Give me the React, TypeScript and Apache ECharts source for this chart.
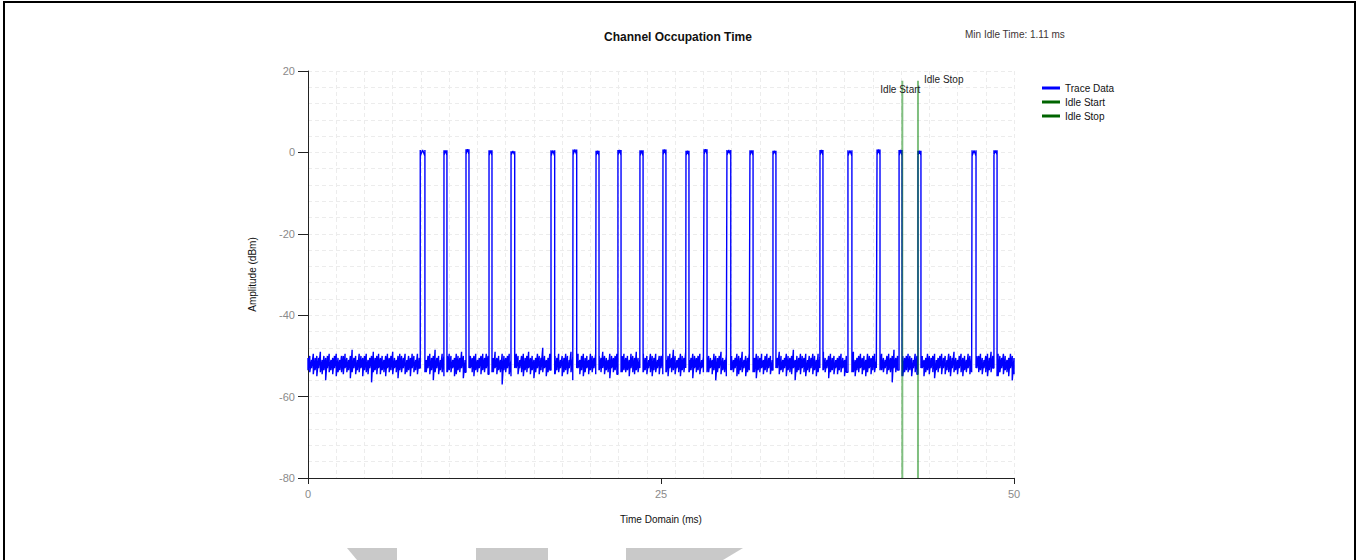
import React, { useEffect, useRef } from "react";
import * as echarts from "echarts";

const FONT = "'Liberation Sans', Arial, Helvetica, sans-serif";

const chartTitle = "Channel Occupation Time";
const minIdleText = "Min Idle Time: 1.11 ms";
const xTicks = [0, 25, 50];
const yTicks = [-80, -60, -40, -20, 0, 20];

// sample spacing of the noise trace (ms)
const sampleStep = 0.125;

// noise floor, upper edge of each sample bin (dBm), 0 to 50 ms
const noiseUpper = [
  -50.5,-50,-51,-49.5,-50.5,-50,-50.5,-49,-51,-50,-50.5,-50,-49.5,-51,-50.5,-50,-49.5,-50.5,-51,-50,
  -50,-49.5,-50.5,-51,-50,-48.5,-50.5,-50,-51,-49.5,-50,-50.5,-50,-49.5,-51,-50.5,-50,-49,-50.5,-50,
  -49.5,-50.5,-50,-51,-50,-49.5,-50.5,-50,-49,-50.5,-51,-50,-49.5,-50,-50.5,-49.5,-51,-50,-50.5,-49.5,
  -50,-51,-49.5,-50.5,-50,-49,-50.5,-51,-50,-49.5,-50.5,-50,-48.5,-50.5,-50,-51,-49.5,-50,-50.5,-50,
  -49.5,-50,-51,-50.5,-49.5,-50,-50.5,-49,-50,-51,-50.5,-49.5,-50,-50.5,-50,-49.5,-51,-50.5,-50,-49.5,
  -50.5,-49.5,-50,-51,-50,-50.5,-49,-50.5,-50,-51,-49.5,-50,-50.5,-50,-49.5,-51,-50,-50.5,-49.5,-50,
  -51,-50,-49.5,-50.5,-50,-49,-50.5,-50,-51,-50.5,-49.5,-50,-50.5,-48,-50,-51,-50.5,-49.5,-50,-50.5,
  -50,-50.5,-49.5,-51,-50,-50.5,-49.5,-50,-51,-49,-50.5,-50,-50.5,-49.5,-51,-50,-49.5,-50.5,-50,-51,
  -49.5,-50,-50.5,-49.5,-51,-50,-50.5,-49,-50,-50.5,-51,-49.5,-50,-50.5,-50,-49.5,-50.5,-51,-50,-49.5,
  -50.5,-50,-51,-49.5,-50,-50.5,-49,-50.5,-51,-50,-49.5,-50.5,-50,-51,-49.5,-50,-50.5,-49.5,-51,-50,
  -50,-49.5,-50.5,-51,-50,-49.5,-50.5,-48.5,-50,-51,-50.5,-49.5,-50,-50.5,-49,-50,-51,-50.5,-49.5,-50,
  -50.5,-50,-49.5,-51,-50.5,-50,-49.5,-50,-50.5,-51,-49.5,-50,-50.5,-50,-49,-50.5,-51,-50,-49.5,-50.5,
  -50,-51,-50.5,-49.5,-50,-50.5,-49,-51,-50,-50.5,-49.5,-50,-51,-50.5,-49.5,-50,-50.5,-49.5,-51,-50,
  -49.5,-50.5,-50,-51,-49.5,-50,-50.5,-49,-50,-51,-50.5,-49.5,-50,-50.5,-50,-48.5,-51,-50,-50.5,-49.5,
  -50,-50.5,-49.5,-51,-50,-50.5,-49.5,-50,-51,-49.5,-50.5,-50,-49,-50.5,-51,-50,-49.5,-50.5,-50,-51,
  -50.5,-50,-49.5,-50.5,-51,-50,-49.5,-50.5,-50,-49,-51,-50.5,-50,-49.5,-50.5,-50,-51,-49.5,-50,-50.5,
  -50,-49.5,-51,-50.5,-50,-49.5,-50.5,-51,-50,-49.5,-50.5,-50,-48.5,-50.5,-50,-51,-49.5,-50,-50.5,-50,
  -49.5,-50,-50.5,-51,-49.5,-50,-50.5,-49,-50,-51,-50.5,-49.5,-50,-50.5,-50,-49.5,-51,-50.5,-50,-49.5,
  -50.5,-50,-51,-49.5,-50,-50.5,-49,-50.5,-51,-50,-49.5,-50.5,-50,-51,-49.5,-50,-50.5,-49.5,-51,-50,
  -50,-49.5,-50.5,-51,-50,-49.5,-50.5,-49,-50,-51,-50.5,-49.5,-50,-50.5,-49.5,-50,-51,-50.5,-49.5,-50,
  -50.5,
];

// noise floor, lower edge of each sample bin (dBm), 0 to 50 ms
const noiseLower = [
  -53.5,-54,-53,-54.5,-53.5,-55,-53,-54,-54.5,-53.5,-56,-53,-54,-53.5,-54.5,-53,-55,-54,-53.5,-54,
  -54.5,-53,-54,-53.5,-55.5,-54,-53,-54.5,-53.5,-54,-53,-55,-53.5,-54,-54.5,-53,-56.5,-54,-53.5,-54.5,
  -53,-54.5,-53.5,-54,-55,-53,-54,-53.5,-54.5,-53,-54,-55.5,-53.5,-54,-53,-54.5,-54,-53.5,-55,-53,
  -54,-53.5,-54.5,-53,-54,-55,-53.5,-54,-53,-54.5,-53.5,-56,-54,-53,-54.5,-53.5,-54,-55,-53,-54,
  -53.5,-54,-53,-55,-54.5,-53.5,-54,-53,-55.5,-54,-53.5,-54.5,-53,-54,-55,-53.5,-54,-53,-54.5,-53.5,
  -54,-53,-54.5,-53.5,-55,-54,-53,-54.5,-53.5,-54,-57,-53.5,-54,-53,-54.5,-55,-53.5,-54,-53,-54.5,
  -53,-54,-55,-53.5,-54,-53,-54.5,-53.5,-55.5,-54,-53,-54.5,-53.5,-54,-53,-55,-54,-53.5,-54.5,-53,
  -54.5,-53.5,-54,-53,-55,-54,-53.5,-54.5,-53,-54,-56,-53.5,-54,-53,-54.5,-53.5,-55,-54,-53,-54.5,
  -53.5,-54,-53,-54.5,-55,-53.5,-54,-53,-54.5,-53.5,-54,-55.5,-53,-54,-53.5,-54.5,-53,-55,-54,-53.5,
  -54,-53.5,-55,-53,-54,-54.5,-53.5,-54,-53,-56.5,-54,-53.5,-54.5,-53,-54,-55,-53.5,-54,-53,-54.5,
  -53,-54.5,-53.5,-54,-55,-53,-54,-53.5,-54.5,-53,-54,-55,-53.5,-54,-53,-54.5,-54,-53.5,-55.5,-53,
  -54,-53.5,-54.5,-53,-54,-55,-53.5,-54,-53,-54.5,-53.5,-56,-54,-53,-54.5,-53.5,-54,-55,-53,-54,
  -53.5,-54,-53,-55,-54.5,-53.5,-54,-53,-55,-54,-53.5,-54.5,-53,-54,-55.5,-53.5,-54,-53,-54.5,-53.5,
  -54,-53,-54.5,-53.5,-55,-54,-53,-54.5,-53.5,-54,-53,-55,-53.5,-54,-54.5,-53,-56,-54,-53.5,-54.5,
  -53,-54,-55,-53.5,-54,-53,-54.5,-53.5,-55,-54,-53,-54.5,-53.5,-54,-53,-55.5,-54,-53.5,-54.5,-53,
  -54.5,-53.5,-54,-53,-55,-54,-53.5,-54.5,-53,-54,-55,-53.5,-54,-53,-54.5,-53.5,-55,-54,-53,-54.5,
  -53.5,-54,-53,-54.5,-55,-53.5,-54,-53,-54.5,-53.5,-54,-56.5,-53,-54,-53.5,-54.5,-53,-55,-54,-53.5,
  -54,-53.5,-55,-53,-54,-54.5,-53.5,-54,-53,-55,-54,-53.5,-54.5,-53,-54,-55.5,-53.5,-54,-53,-54.5,
  -53,-54.5,-53.5,-54,-55,-53,-54,-53.5,-54.5,-53,-54,-55,-53.5,-54,-53,-54.5,-54,-53.5,-55,-53,
  -54,-53.5,-54.5,-53,-54,-55,-53.5,-54,-53,-54.5,-53.5,-55,-54,-53,-54.5,-53.5,-54,-55,-53,-56,
  -54.5,
];

// burst start / stop times (ms)
const pulseStart = [7.95, 9.63, 11.19, 12.82, 14.38, 17.21, 18.77, 20.40, 21.95, 23.51, 25.14, 26.77, 28.05, 29.67, 31.30, 32.93, 36.26, 38.24, 40.30, 41.86, 43.20, 47.03, 48.58];
const pulseStop = [8.28, 9.84, 11.40, 13.03, 14.64, 17.47, 19.03, 20.61, 22.17, 23.73, 25.35, 26.98, 28.26, 29.94, 31.52, 33.14, 36.47, 38.52, 40.51, 42.07, 43.41, 47.31, 48.80];
// burst top levels (dBm)
const pulseHigh = [0.6, 0.5, 0.8, 0.5, 0.3, 0.5, 0.7, 0.4, 0.6, 0.5, 0.7, 0.4, 0.8, 0.6, 0.5, 0.4, 0.6, 0.5, 0.7, 0.6, 0.4, 0.5, 0.5];
const pulseLow = [-0.9, -0.7, -0.5, -0.8, -0.6, -0.9, -0.6, -0.8, -0.7, -0.9, -0.6, -0.8, -0.5, -0.7, -0.8, -0.6, -0.7, -0.9, -0.6, -0.8, -0.7, -0.9, -0.6];

// idle markers
const idleStart = 42.09;
const idleStop = 43.2;
const idleLineBottom = -80;
const idleLineTop = 17.6;

function buildTrace(): number[][] {
  const out: number[][] = [];
  let p = 0;
  const n = noiseUpper.length;
  for (let i = 0; i < n; i++) {
    const t = i * sampleStep;
    if (p < pulseStart.length && t >= pulseStart[p]) {
      const s = pulseStart[p];
      const e = pulseStop[p];
      const after = Math.min(n - 1, Math.ceil(e / sampleStep));
      out.push([s, noiseLower[Math.max(0, i - 1)]]);
      out.push([s, pulseHigh[p]]);
      out.push([s, pulseLow[p]]);
      out.push([(s + e) / 2, pulseHigh[p]]);
      out.push([e, pulseLow[p]]);
      out.push([e, pulseHigh[p]]);
      out.push([e, noiseLower[after]]);
      p++;
    }
    if (p > 0 && t >= pulseStart[p - 1] && t <= pulseStop[p - 1]) continue;
    out.push([t, noiseUpper[i]]);
    out.push([t, noiseLower[i]]);
  }
  return out;
}

export default function App() {
  const ref = useRef<HTMLDivElement>(null);
  useEffect(() => {
    document.body.style.margin = "0";
    if (!ref.current) return;
    const chart = echarts.init(ref.current, undefined, { renderer: "svg" });
    const trace = buildTrace();
    const gridLine = { show: true, lineStyle: { color: "#ececec", type: [4, 3] as any, width: 1 } };
    const greenLine = "rgba(0,128,0,0.5)";
    chart.setOption({
      animation: false,
      backgroundColor: "#ffffff",
      textStyle: { fontFamily: FONT },
      title: {
        text: chartTitle,
        left: 678,
        top: 31,
        padding: 0,
        textAlign: "center",
        textStyle: { fontFamily: FONT, fontSize: 12, fontWeight: "bold", color: "#111" },
      },
      legend: {
        orient: "vertical",
        left: 1042,
        top: 83,
        padding: 0,
        itemWidth: 18,
        itemHeight: 3,
        itemGap: 4,
        icon: "rect",
        textStyle: { fontFamily: FONT, fontSize: 10, color: "#111" },
        data: [
          { name: "Trace Data", itemStyle: { color: "#0000ff" } },
          { name: "Idle Start", itemStyle: { color: "#006400" } },
          { name: "Idle Stop", itemStyle: { color: "#006400" } },
        ],
      },
      grid: { left: 308, right: 348, top: 71, bottom: 82, containLabel: false },
      xAxis: [
        {
          type: "value",
          min: xTicks[0],
          max: xTicks[xTicks.length - 1],
          interval: xTicks[1] - xTicks[0],
          position: "bottom",
          name: "Time Domain (ms)",
          nameLocation: "middle",
          nameGap: 36,
          nameTextStyle: { fontFamily: FONT, fontSize: 10, color: "#111" },
          axisLine: { show: true, onZero: false, lineStyle: { color: "#222", width: 1 } },
          axisTick: { show: true, length: 6, lineStyle: { color: "#222" } },
          axisLabel: { color: "#8a8a8a", fontSize: 11, fontFamily: FONT, margin: 10 },
          splitLine: { show: false },
        },
        {
          type: "value",
          min: 0,
          max: 50,
          interval: 2,
          position: "top",
          axisLine: { show: false, onZero: false },
          axisTick: { show: false },
          axisLabel: { show: false },
          splitLine: gridLine,
        },
      ],
      yAxis: {
        type: "value",
        min: yTicks[0],
        max: yTicks[yTicks.length - 1],
        interval: 20,
        name: "Amplitude (dBm)",
        nameLocation: "middle",
        nameGap: 51,
        nameTextStyle: { fontFamily: FONT, fontSize: 10, color: "#111" },
        axisLine: { show: true, onZero: false, lineStyle: { color: "#222", width: 1 } },
        axisTick: { show: true, length: 10, lineStyle: { color: "#222" } },
        axisLabel: { color: "#8a8a8a", fontSize: 11, fontFamily: FONT, margin: 13 },
        splitLine: gridLine,
        minorTick: { show: false, splitNumber: 5 },
        minorSplitLine: gridLine,
      },
      graphic: [
        {
          type: "text",
          left: 965,
          top: 29,
          style: { text: minIdleText, font: `10px ${FONT}`, fill: "#3d3535" },
        },
        { type: "rect", shape: { x: 3, y: 1, width: 1353, height: 2 }, style: { fill: "#000" } },
        { type: "rect", shape: { x: 3, y: 1, width: 2, height: 559 }, style: { fill: "#000" } },
        { type: "rect", shape: { x: 1354, y: 1, width: 2, height: 559 }, style: { fill: "#000" } },
        { type: "polygon", shape: { points: [[347, 548], [397, 548], [397, 560], [357, 560]] }, style: { fill: "#c9c9c9" } },
        { type: "rect", shape: { x: 476, y: 548, width: 72, height: 12 }, style: { fill: "#c9c9c9" } },
        { type: "polygon", shape: { points: [[626, 548], [743, 548], [723, 560], [626, 560]] }, style: { fill: "#c9c9c9" } },
      ],
      series: [
        {
          name: "Trace Data",
          type: "line",
          xAxisIndex: 0,
          data: trace,
          showSymbol: false,
          lineStyle: { color: "#0000ff", width: 1.4 },
          itemStyle: { color: "#0000ff" },
          z: 2,
        },
        {
          name: "Idle Start",
          type: "line",
          xAxisIndex: 0,
          symbol: "circle",
          symbolSize: 0.01,
          showSymbol: true,
          lineStyle: { color: greenLine, width: 2 },
          itemStyle: { color: "#006400" },
          z: 3,
          data: [
            [idleStart, idleLineBottom],
            {
              value: [idleStart, idleLineTop],
              label: { show: true, formatter: "Idle Start", position: "inside", offset: [-2, 9], fontFamily: FONT, fontSize: 10, color: "#222" },
            },
          ],
        },
        {
          name: "Idle Stop",
          type: "line",
          xAxisIndex: 0,
          symbol: "circle",
          symbolSize: 0.01,
          showSymbol: true,
          lineStyle: { color: greenLine, width: 2 },
          itemStyle: { color: "#006400" },
          z: 3,
          data: [
            [idleStop, idleLineBottom],
            {
              value: [idleStop, idleLineTop],
              label: { show: true, formatter: "Idle Stop", position: "right", distance: 6, offset: [0, -1], fontFamily: FONT, fontSize: 10, color: "#222" },
            },
          ],
        },
      ],
    });
    return () => chart.dispose();
  }, []);
  return <div ref={ref} style={{ width: 1362, height: 560 }} />;
}
